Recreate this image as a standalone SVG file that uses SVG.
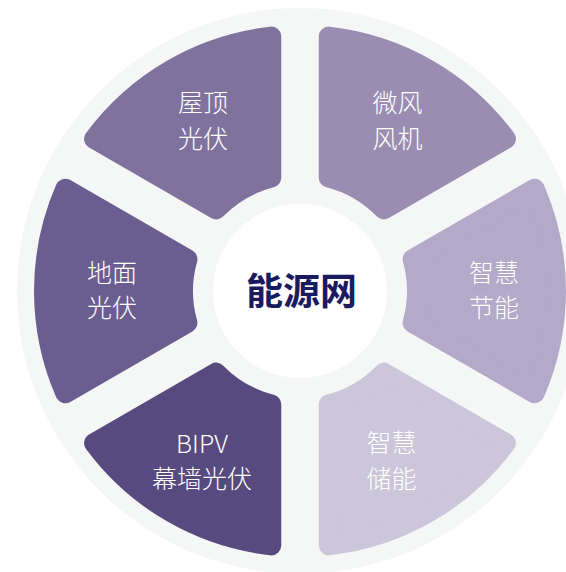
<svg xmlns="http://www.w3.org/2000/svg" xmlns:xlink="http://www.w3.org/1999/xlink" width="566" height="572" viewBox="0 0 566 572">
<style>
.seg{stroke-width:20;stroke-linejoin:round}
.lbl{font-family:"Noto Sans CJK SC","Noto Sans",sans-serif;font-size:25px;font-weight:300;fill:#ffffff;text-anchor:middle}
.ctr{font-family:"Noto Sans CJK SC","Noto Sans",sans-serif;font-size:37px;font-weight:bold;fill:#1c1a5e;text-anchor:middle}
</style>
<defs>
<path id="seg" d="M534.675,188.715 A256,256 0 0 1 534.675,393.285 L412.594,322.809 A117,117 0 0 0 412.594,259.191 Z"/>
</defs>
<rect width="566" height="572" fill="#ffffff"/>
<circle cx="300" cy="291" r="283" fill="#f5f7f6"/>
<g id="connectors"></g>
<g id="node-roof">
<use xlink:href="#seg" class="seg" transform="rotate(-120 300 291)" fill="#7f739e" stroke="#7f739e"/>
<text class="lbl" x="203" y="112">屋顶</text>
<text class="lbl" x="203" y="148">光伏</text>
</g>
<g id="node-wind">
<use xlink:href="#seg" class="seg" transform="rotate(-60 300 291)" fill="#9a8db1" stroke="#9a8db1"/>
<text class="lbl" x="397.5" y="112">微风</text>
<text class="lbl" x="397.5" y="148">风机</text>
</g>
<g id="node-saving">
<use xlink:href="#seg" class="seg" fill="#b3a9c9" stroke="#b3a9c9"/>
<text class="lbl" x="494" y="282">智慧</text>
<text class="lbl" x="494" y="317">节能</text>
</g>
<g id="node-storage">
<use xlink:href="#seg" class="seg" transform="rotate(60 300 291)" fill="#cbc6da" stroke="#cbc6da"/>
<text class="lbl" x="391.5" y="452">智慧</text>
<text class="lbl" x="391.5" y="488">储能</text>
</g>
<g id="node-bipv">
<use xlink:href="#seg" class="seg" transform="rotate(120 300 291)" fill="#574a7f" stroke="#574a7f"/>
<text class="lbl" x="202" y="453">BIPV</text>
<text class="lbl" x="202" y="488">幕墙光伏</text>
</g>
<g id="node-ground">
<use xlink:href="#seg" class="seg" transform="rotate(180 300 291)" fill="#6a5e91" stroke="#6a5e91"/>
<text class="lbl" x="112" y="282">地面</text>
<text class="lbl" x="112" y="317">光伏</text>
</g>
<g id="node-center">
<circle cx="300" cy="291" r="87" fill="#ffffff"/>
<text class="ctr" x="301.5" y="305">能源网</text>
</g>
</svg>
